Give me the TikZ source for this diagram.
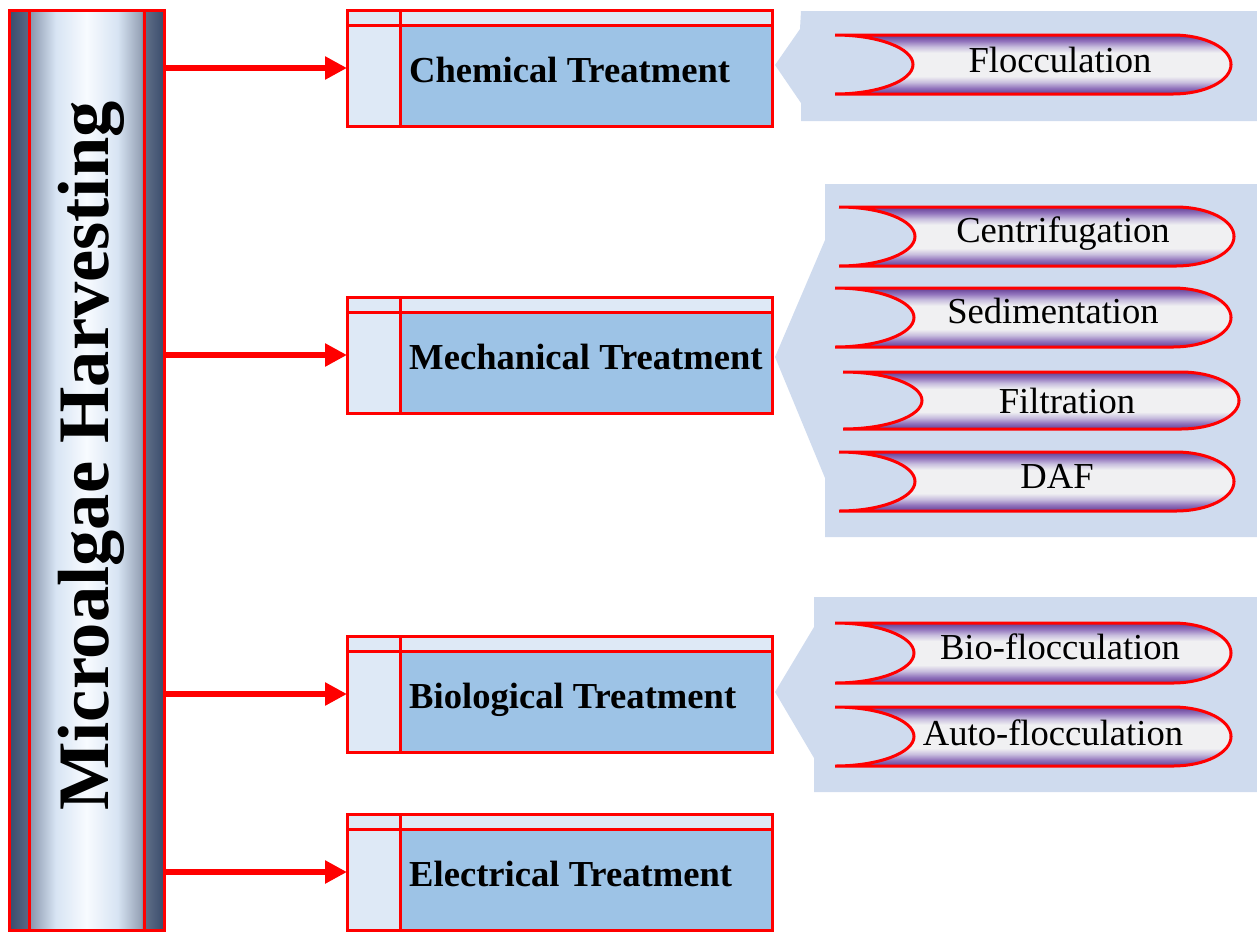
\documentclass[tikz,border=0pt]{standalone}
\usepackage{fontspec}
\setmainfont{Liberation Serif}
\usetikzlibrary{arrows.meta}
\definecolor{redline}{RGB}{255,0,0}
\definecolor{panel}{RGB}{207,219,238}
\definecolor{boxlight}{RGB}{222,233,246}
\definecolor{boxmid}{RGB}{157,195,230}
\definecolor{barA}{RGB}{58,76,108}
\definecolor{barB}{RGB}{88,103,131}
\definecolor{barC}{RGB}{140,152,175}
\definecolor{barD}{RGB}{215,228,243}
\definecolor{barE}{RGB}{248,251,255}
\definecolor{barF}{RGB}{150,162,182}
\definecolor{barG}{RGB}{95,110,135}
\definecolor{pillP}{RGB}{108,72,155}
\definecolor{pillQ}{RGB}{145,115,188}
\definecolor{pillR}{RGB}{200,190,222}
\definecolor{pillW}{RGB}{240,240,242}
\pgfdeclarehorizontalshading{barshade}{100bp}{color(0bp)=(barA); color(25bp)=(barA); color(31bp)=(barB); color(32bp)=(barC); color(40bp)=(barD); color(50bp)=(barE); color(60bp)=(barD); color(67.5bp)=(barF); color(69bp)=(barG); color(75bp)=(barA); color(100bp)=(barA)}
\pgfdeclareverticalshading{pillshade}{100bp}{color(0bp)=(pillP); color(26bp)=(pillP); color(30bp)=(pillQ); color(35bp)=(pillR); color(40bp)=(pillW); color(60bp)=(pillW); color(65bp)=(pillR); color(70bp)=(pillQ); color(74bp)=(pillP); color(100bp)=(pillP)}
\tikzset{
  redframe/.style={draw=redline, line width=3pt},
  pillstyle/.style={redframe, shading=pillshade},
  pilltext/.style={anchor=base, inner sep=0pt, font=\fontsize{36.6}{40}\selectfont},
  boxtext/.style={anchor=base west, inner sep=0pt, font=\bfseries\fontsize{36.6}{40}\selectfont},
  arrowst/.style={draw=redline, line width=6pt, -{Triangle[length=22pt,width=22pt]}},
  panelfill/.style={fill=panel}
}
% L R T B X
\newcommand{\mypill}[5]{%
  \draw[pillstyle] (#1,#3) -- ({#2-58},#3)
    .. controls ({#2-58+0.5523*58},#3) and (#2,{(#3+#4)/2-0.5523*(#4-#3)/2}) .. (#2,{(#3+#4)/2})
    .. controls (#2,{(#3+#4)/2+0.5523*(#4-#3)/2}) and ({#2-58+0.5523*58},#4) .. ({#2-58},#4)
    -- (#1,#4)
    .. controls ({#1+0.5523*(#5-#1)},#4) and (#5,{(#3+#4)/2+0.5523*(#4-#3)/2}) .. (#5,{(#3+#4)/2})
    .. controls (#5,{(#3+#4)/2-0.5523*(#4-#3)/2}) and ({#1+0.5523*(#5-#1)},#3) .. cycle;}
% name top text
\newcommand{\treatbox}[3]{%
  \fill[boxlight] (347,#2) rectangle (772,{#2+116});
  \fill[boxmid] (400,{#2+15}) rectangle (772,{#2+116});
  \draw[redframe] (347,{#2+15}) -- (772,{#2+15}) (400,#2) -- (400,{#2+116});
  \node[redframe, minimum width=425pt, minimum height=116pt, inner sep=0pt, outer sep=0pt] (#1) at (559.5,{#2+58}) {};
  \node[boxtext] (#1-t) at (409,{#2+72}) {#3};}
\begin{document}
\begin{tikzpicture}[x=1pt,y=-1pt]
\useasboundingbox (0,0) rectangle (1257,932);
% panels
\fill[panelfill] (775,65) -- (800,29) -- (801,11) -- (1257,11) -- (1257,121) -- (801,121) -- (801,103) -- cycle;
\fill[panelfill] (775,357) -- (825,240) -- (825,184) -- (1257,184) -- (1257,537) -- (825,537) -- (825,478) -- cycle;
\fill[panelfill] (775,692) -- (814,627) -- (814,597) -- (1257,597) -- (1257,792) -- (814,792) -- (814,758) -- cycle;
% pills
\mypill{835}{1231}{35}{94}{913}
\node[pilltext] (floc) at (1060,72) {Flocculation};
\mypill{839}{1234}{207}{266}{915}
\node[pilltext] (cent) at (1063,242) {Centrifugation};
\mypill{835}{1231}{288}{347}{914}
\node[pilltext] (sedi) at (1053,323) {Sedimentation};
\mypill{843}{1239}{372}{429}{922}
\node[pilltext] (filt) at (1067,413) {Filtration};
\mypill{839}{1234}{452}{511}{915}
\node[pilltext] (daf) at (1057,488) {DAF};
\mypill{835}{1231}{623}{683}{914}
\node[pilltext] (biof) at (1060,659) {Bio-flocculation};
\mypill{835}{1231}{707}{766}{914}
\node[pilltext] (autof) at (1053,745) {Auto-flocculation};
% treatment boxes
\treatbox{chem}{10}{Chemical Treatment}
\treatbox{mech}{297}{Mechanical Treatment}
\treatbox{bio}{636}{Biological Treatment}
\treatbox{elec}{814}{Electrical Treatment}
% bar
\node[redframe, shading=barshade, minimum width=155pt, minimum height=920pt, inner sep=0pt, outer sep=0pt] (bar) at (86.5,470) {};
\draw[redframe] (29,10) -- (29,930) (144,10) -- (144,930);
\node[rotate=90, anchor=base, inner sep=0pt, font=\bfseries\fontsize{72.5}{80}\selectfont] (title) at (108,456) {Microalgae Harvesting};
% arrows
\draw[arrowst] (bar.east |- chem.west) -- (chem.west);
\draw[arrowst] (bar.east |- mech.west) -- (mech.west);
\draw[arrowst] (bar.east |- bio.west) -- (bio.west);
\draw[arrowst] (bar.east |- elec.west) -- (elec.west);
\end{tikzpicture}
\end{document}
